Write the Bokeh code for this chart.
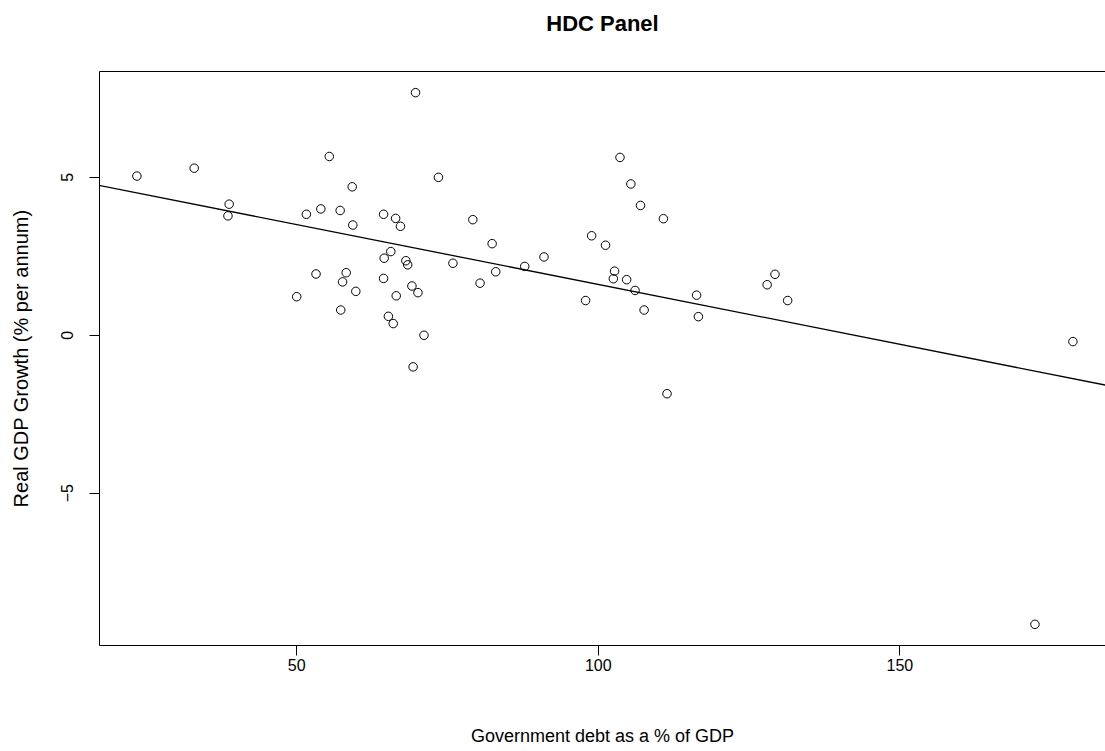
from bokeh.plotting import figure
from bokeh.models import FixedTicker, LinearAxis, Slope, Range1d
from bokeh.embed import file_html
from bokeh.resources import INLINE

# Government debt (% of GDP) and real GDP growth (% per annum), HDC panel
debt = [23.5, 33.0, 38.8, 38.6, 55.4, 59.2, 51.6, 54.0, 57.2, 59.3,
        64.4, 66.4, 67.2, 65.6, 64.5, 53.2, 58.2, 57.6, 59.8, 64.4,
        50.0, 57.3, 65.2, 66.0, 66.5, 69.7, 73.5, 79.2, 82.4, 68.1,
        68.4, 75.9, 91.0, 87.8, 83.0, 80.4, 69.1, 70.1, 71.1, 69.3,
        103.6, 105.4, 107.0, 110.8, 98.9, 101.2, 102.7, 102.5, 104.7, 106.1,
        97.9, 107.6, 116.3, 116.6, 111.4, 128.0, 129.3, 131.4, 178.7, 172.4]
growth = [5.04, 5.29, 4.15, 3.78, 5.66, 4.70, 3.83, 4.00, 3.95, 3.49,
          3.83, 3.70, 3.45, 2.65, 2.44, 1.94, 1.98, 1.69, 1.39, 1.80,
          1.22, 0.80, 0.60, 0.37, 1.25, 7.68, 5.00, 3.66, 2.90, 2.36,
          2.23, 2.28, 2.48, 2.18, 2.01, 1.65, 1.56, 1.35, 0.00, -1.00,
          5.63, 4.79, 4.11, 3.69, 3.15, 2.85, 2.03, 1.79, 1.76, 1.42,
          1.10, 0.80, 1.27, 0.59, -1.85, 1.60, 1.93, 1.10, -0.20, -9.15]

# fitted regression line: growth = intercept + slope * debt
fit_intercept = 5.40
fit_slope = -0.0379

x_ticks = [50, 100, 150]
y_ticks = [-5, 0, 5]

FONT = "Liberation Sans"

p = figure(width=1105, height=751, output_backend="svg", toolbar_location=None,
           x_range=Range1d(17.3, 184.1), y_range=Range1d(-9.82, 8.35),
           min_border_left=99, min_border_right=0, min_border_top=71,
           min_border_bottom=106, x_axis_location=None, y_axis_location=None)
p.background_fill_color = "white"
p.border_fill_color = "white"
p.outline_line_color = None
p.xgrid.visible = False
p.ygrid.visible = False

def style_axis(ax):
    ax.axis_line_color = "black"
    ax.axis_line_width = 1
    ax.major_tick_line_color = "black"
    ax.major_tick_out = 10
    ax.major_tick_in = 0
    ax.minor_tick_line_color = None
    ax.major_label_text_font = FONT
    ax.major_label_text_font_size = "16px"
    ax.major_label_text_color = "black"
    ax.axis_label_text_font = FONT
    ax.axis_label_text_font_style = "normal"
    ax.axis_label_text_color = "black"

xaxis = LinearAxis(ticker=FixedTicker(ticks=x_ticks),
                   axis_label="Government debt as a % of GDP")
style_axis(xaxis)
xaxis.axis_label_text_font_size = "18px"
xaxis.major_label_standoff = 3
xaxis.axis_label_standoff = 52
p.add_layout(xaxis, "below")

yaxis = LinearAxis(ticker=FixedTicker(ticks=y_ticks),
                   axis_label="Real GDP Growth (% per annum)")
style_axis(yaxis)
yaxis.axis_label_text_font_size = "20px"
yaxis.major_label_orientation = "vertical"
yaxis.major_label_standoff = 16
yaxis.axis_label_standoff = 27
p.add_layout(yaxis, "left")

# top border of the plotting box, carrying the main title
top = LinearAxis(ticker=FixedTicker(ticks=[]), axis_label="HDC Panel")
top.axis_line_color = "black"
top.major_tick_line_color = None
top.minor_tick_line_color = None
top.major_tick_out = 0
top.major_label_text_font_size = "0px"
top.major_label_standoff = 0
top.axis_label_text_font = FONT
top.axis_label_text_font_size = "22px"
top.axis_label_text_font_style = "bold"
top.axis_label_text_color = "black"
top.axis_label_standoff = 36
p.add_layout(top, "above")

p.scatter(debt, growth, marker="circle", size=8.5, fill_color=None,
          line_color="black", line_width=1)

p.add_layout(Slope(gradient=fit_slope, y_intercept=fit_intercept,
                   line_color="black", line_width=1.3))

open("out.html", "w").write(file_html(p, INLINE))
